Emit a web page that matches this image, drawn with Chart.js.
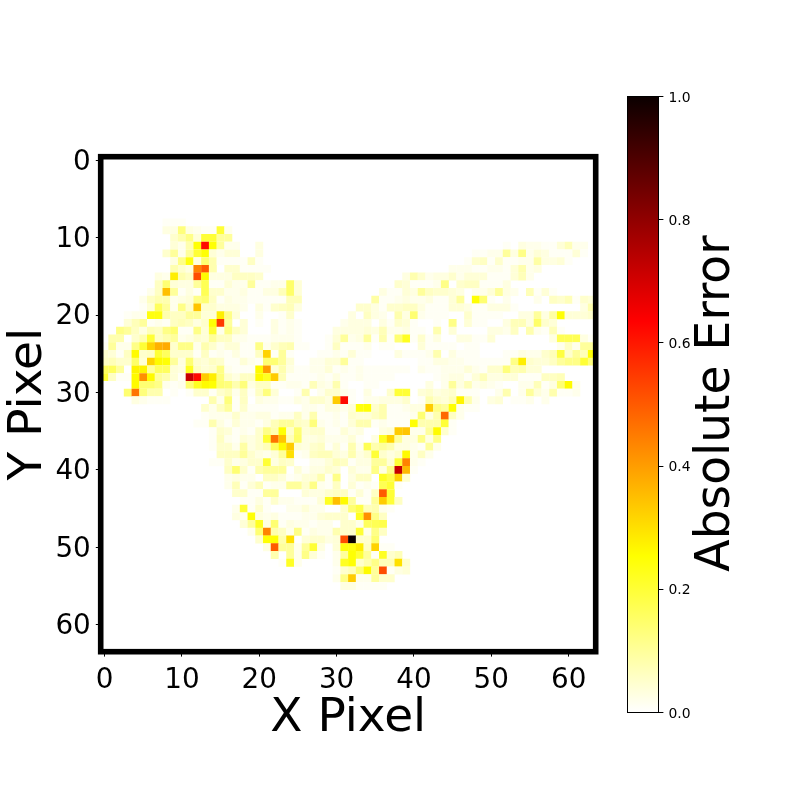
<!DOCTYPE html>
<html>
<head>
<meta charset="utf-8">
<title>Absolute Error</title>
<script src="https://cdn.jsdelivr.net/npm/chart.js@4/dist/chart.umd.js"></script>
<style>
    body { margin: 0; background: #fff; }
    canvas { position: absolute; left: 0; top: 0; }
</style>
</head>
<body>
<canvas id="heatCanvas" width="800" height="800"></canvas>
<canvas id="barCanvas" width="800" height="800"></canvas>
<script>
// Error per pixel in hundredths. Each row is a list of runs: [first column, value, value, ...]
const row08 = [[8,1,1,1]];
const row09 = [[8,3,3,13,3,2,1,1,20,2]];
const row10 = [[9,5,8,12,4,20,20,10,10]];
const row11 = [[9,4,2,8,25,62,25,10,2,2,0,0,3],[52,1,0,3,2,2,1,1,4,7,2,2]];
const row12 = [[8,5,10,2,10,20,25,4,2,4,4,0,0,3],[48,1,1,2,2,10,3,12,2,4,3,1,1,1,4,1]];
const row13 = [[9,3,12,24,3,14,8,1,1,1,1,6,1],[47,1,5,6,1,5,1,1,2,2,9,3,3,4,1]];
const row14 = [[9,8,5,3,44,50,8,0,5,5,1,1,1,1],[45,2,2,2,1,1,2,2,1,4,8,2,3]];
const row15 = [[7,3,2,28,8,6,52,26,3,3,3,6,6,6,5],[39,3,8,5,2,3,3,5,2,4,4,4,1,1,1,4,7,2]];
const row16 = [[7,6,14,4,3,3,10,17,1,1,4,2,2,10,1,1,2,2,15,4],[38,5,4,1,1,1,2,12,0,5,6,6,1,1,1,3]];
const row17 = [[6,2,6,35,10,1,3,1,17,5,5,2,2,3,1,1,3,3,7,15,4],[36,3,1,1,4,3,10,6,5,5,4,3,0,2,2,4,10,3,2,0,7,1,4,1]];
const row18 = [[5,2,6,8,8,2,3,4,12,14,6,1,3,2,2,1,1,1,1,1,7,7],[35,9,1,1,2,3,2,2,3,1,1,4,10,0,25,14,1,0,2,0,0,0,2,0,6,5,7,1,5,4]];
const row19 = [[5,1,4,16,10,2,12,5,34,5,5,3,3,3,2,0,3,1,5,6,7,3],[33,5,5,3,1,5,5,6,6,3,1,1,1,4,4,3,1,1,3,3,3,1],[62,3,8]];
const row20 = [[3,1,2,2,24,24,8,6,6,10,10,4,4,28,12,4,0,0,2,0,0,1,5],[32,3,0,6,3,2,0,8,3,14,2,1,1,1,0,0,5,1,1,1,1,0,0,3,3,10,3,9,25,4,4,4,5]];
const row21 = [[3,4,7,10,1,2,1,6,7,6,3,5,25,55,10,0,4,0,1,0,3,1,2,1],[31,2,3,3,3,0,3,1,5,4,1,0,0,1,0,12,0,4,1,1,0,0,3,7,7,3,15,5,4]];
const row22 = [[2,12,10,6,3,7,6,12,14,1,1,12,4,20,2,12,6,4,0,0,0,3,1,2,1],[30,3,3,3,3,4,3,7,2,2,3,1,1,0,8,0,4,0,0,0,0,3,3,2,6,0,8,2,1,7,1]];
const row23 = [[1,8,8,0,5,8,20,6,8,10,2,3,5,4,10,6,6,2,2,1,1,1,2,2,2,1],[29,1,4,10,2,3,10,1,8,1,14,22,1,5,1,3,0,0,3,3,1,1,4],[58,3,17,17,17,3,1]];
const row24 = [[0,1,10,2,2,12,20,32,37,38,5,12,12,2,8,5,2,4,4,1,1,12,2,5,7,8,1,1,0,0,1,6,1,1,1,2,0,1,1,0,0,0,4,1,1,1,1,0,1,1],[59,2,6,2,10,10]];
const row25 = [[0,5,4,1,6,26,5,6,20,16,5,5,5,1,6,1,2,1,3,1,1,6,32,1,10,1],[28,1,1,2,1,4,1,1,0,0,0,3,1,1,1,2,8,0,3,1,1,1],[52,1,1,3,2,2,5,7,19,5,10,7,25]];
const row26 = [[0,6,7,5,5,15,4,32,26,25,10,3,14,5,4,6,5,1,1,4,2,1,14,14,10,4],[27,2,2,4,4,10,1,1],[41,1,1,3,3,2,2,1,1,1,1,1,1,12,28,5,4,4,6,10,12,12,20,13]];
const row27 = [[0,16,16,10,0,27,27,10,16,16,4,3,22,6,4,5,12,2,1,1,1,26,40,4,8,3,1,1,2,2,4,1,2,1,2,1,1,1,1,1,1,0,2,1,1,2,2,2,4,2,1,5,5,13,7,8,4,4]];
const row28 = [[0,20,6,1,1,26,42,26,10,8,4,1,72,62,33,28,13,5,3,6,6,26,22,33,7,1,1,1,1,2,1,3,1,1,2,1,1,1,1],[43,1,2,3,3,1,4,7,3,3,4,4,1,1,1,6,6,7]];
const row29 = [[4,26,14,14,12,2,1,2,14,22,26,25,14,13,8,13,3,6,6,1,1,2,2,1,7,3,2,8,1,0,0,1,1],[42,3,0,2,10,3,7,2,3,2,1,0,0,2,2,7,1,3,14,26,2]];
const row30 = [[3,14,46,13,8,8,0,1,0,1,5,5,1,5,7,2,6,1,6,13,4,0,0,1,8,0,2,5,5,2,1,0,3,0,0,5,20,20,0,4,5,3,4,5,1,1,1,0,0,2,8,0,2,10,4,2,8,1,1,2]];
const row31 = [[4,3,2,1,1,1,0,0,0,0,0,8,2,13,1,6,0,3,2,2,1,1,3,2,5,5,3,33,62,1,0,2,2,3,3,3,5,0,1,8,5,4,7,27,8,2,0,3,4,0,1,1,2,0,2]];
const row32 = [[13,5,2,6,10,1,5,1,1,1,1,0,0,0,2,2,1,3,3,2,4,24,25,5,8,1,1,2,3,3,33,12,10,25,2,1,1]];
const row33 = [[13,1,2,2,2,5,2,2,3,3,1,2,2,6,2,8,1,1,2,1,5,4,4,6,8,1,1,1,2,14,3,8,48,6,2]];
const row34 = [[12,1,1,8,3,1,4,2,2,1,3,7,10,10,6,5,13,2,1,2,1,4,8,8,1,2,1,1,1,25,8,8,8,20,1]];
const row35 = [[14,1,5,4,1,2,1,5,12,8,25,5,14,4,5,5,1,1,4,2,3,0,0,3,4,33,34,2,2,10,26,5,1]];
const row36 = [[14,1,6,2,1,4,3,5,20,46,34,7,15,3,3,4,2,2,2,4,1,0,3,22,32,10,3,3,12,3,12]];
const row37 = [[14,1,5,5,2,9,3,5,7,16,26,33,4,3,5,6,1,4,1,8,2,17,8,10,8,3,3,2,1,10,2]];
const row38 = [[15,6,6,6,10,5,3,2,4,10,30,1,2,6,7,7,4,3,8,3,5,20,5,3,5,26,2,6,2]];
const row39 = [[14,1,1,5,2,3,5,5,20,3,6,5,0,0,2,2,4,7,6,1,3,3,10,10,4,20,44,2,1]];
const row40 = [[16,6,14,5,1,8,10,10,10,0,4,1,3,3,5,4,0,4,2,2,12,3,12,72,36,1]];
const row41 = [[16,2,3,2,2,0,6,6,4,1,2,4,4,8,1,12,0,3,6,6,0,22,18,32,5]];
const row42 = [[16,2,7,1,4,7,1,2,2,10,10,5,12,2,1,6,0,4,1,2,1,17,20,1]];
const row43 = [[17,5,5,1,1,10,10,0,0,0,4,3,3,5,6,6,1,4,1,6,50,20]];
const row44 = [[18,1,1,3,1,5,2,2,1,1,1,4,22,35,26,10,1,1,10,33,20,6]];
const row45 = [[17,2,20,1,5,1,0,0,2,2,4,2,2,0,0,5,14,18,7,8,2,1]];
const row46 = [[17,3,2,25,3,2,3,1,1,1,2,2,4,5,5,5,0,22,42,12,6]];
const row47 = [[18,4,10,22,3,14,1,3,2,2,1,2,2,0,5,5,2,16,17,18]];
const row48 = [[19,2,14,44,8,6,2,12,1,3,2,2,8,5,5,20,2,12,6]];
const row49 = [[20,5,25,25,8,30,0,4,5,5,3,4,52,100,5,5,14]];
const row50 = [[21,3,50,10,10,2,10,20,3,0,4,24,24,28,6,32,1,1]];
const row51 = [[22,8,0,10,2,12,4,1,0,2,10,25,20,10,1,22,5,7]];
const row52 = [[23,1,22,2],[30,2,22,25,5,8,12,7,7,30,5]];
const row53 = [[30,1,5,7,14,26,10,52,1,3,4]];
const row54 = [[30,2,12,33,2,2,10,5,5]];
const row55 = [[31,3,3,1,1,1,1]];

const firstRow = 8;
const errorRows = [
    row08, row09, row10, row11, row12, row13, row14, row15, row16, row17,
    row18, row19, row20, row21, row22, row23, row24, row25, row26, row27,
    row28, row29, row30, row31, row32, row33, row34, row35, row36, row37,
    row38, row39, row40, row41, row42, row43, row44, row45, row46, row47,
    row48, row49, row50, row51, row52, row53, row54, row55
];

const pixelTicks = [0, 10, 20, 30, 40, 50, 60];
const barTicks = [0, 0.2, 0.4, 0.6, 0.8, 1];
const barStops = [0, 0.254, 0.635, 1];

const fontFamily = "'DejaVu Sans', sans-serif";

// Same colours as matplotlib's hot_r
function hotColor(v) {
    const b = Math.max(0, 1 - v / 0.254);
    const g = Math.min(1, Math.max(0, 1 - (v - 0.254) / 0.381));
    const r = v < 0.635 ? 1 : 1 - (v - 0.635) / 0.365 * 0.958;
    return `rgb(${Math.round(r * 255)}, ${Math.round(g * 255)}, ${Math.round(b * 255)})`;
}

// Flatten the runs into scatter points
const points = [];
errorRows.forEach(function(runs, i) {
    runs.forEach(function(run) {
        run.slice(1).forEach(function(value, j) {
            if (value > 0) {
                points.push({x: run[0] + j, y: firstRow + i, v: value / 100});
            }
        });
    });
});

// Box drawn around the plot area, as Chart.js only has left and bottom borders
const framePlugin = {
    id: 'frame',
    afterDatasetsDraw(chart, args, opts) {
        const {ctx, chartArea} = chart;
        ctx.save();
        ctx.strokeStyle = '#000';
        ctx.lineWidth = opts.width;
        ctx.strokeRect(chartArea.left, chartArea.top, chartArea.right - chartArea.left, chartArea.bottom - chartArea.top);
        ctx.restore();
    }
};

// Right hand axis titles turn the other way in Chart.js, so this one is drawn by hand
const barTitlePlugin = {
    id: 'barTitle',
    afterDraw(chart) {
        const {ctx} = chart;
        ctx.save();
        ctx.translate(717, 403.5);
        ctx.rotate(-Math.PI / 2);
        ctx.font = `47.2px ${fontFamily}`;
        ctx.fillStyle = '#000';
        ctx.textAlign = 'center';
        ctx.textBaseline = 'middle';
        ctx.fillText('Absolute Error', 0, 0);
        ctx.restore();
    }
};

function setPixelTicks(scale) {
    scale.ticks = pixelTicks.map(v => ({value: v}));
}

function pixelAxis(label, titlePadding) {
    return {
        type: 'linear',
        min: -0.5,
        max: 63.5,
        afterBuildTicks: setPixelTicks,
        border: {display: false},
        grid: {drawOnChartArea: false, tickColor: '#000', tickLength: 4.9, tickWidth: 1},
        ticks: {
            color: '#000',
            autoSkip: false,
            maxRotation: 0,
            padding: 5,
            font: {family: fontFamily, size: 27.8}
        },
        title: {
            display: true,
            text: label,
            color: '#000',
            padding: titlePadding,
            font: {family: fontFamily, size: 47, lineHeight: 1}
        }
    };
}

const xAxis = pixelAxis('X Pixel', {top: 0, bottom: 58});
xAxis.ticks.padding = 7;
xAxis.afterFit = function(scale) { scale.height = 148.3; };

const yAxis = pixelAxis('Y Pixel', {top: 5, bottom: 0});
yAxis.reverse = true;
yAxis.ticks.labelOffset = 2;
yAxis.afterFit = function(scale) { scale.width = 100.7; };

new Chart(document.getElementById('heatCanvas').getContext('2d'), {
    type: 'scatter',
    data: {
        datasets: [{
            label: 'Absolute Error',
            data: points,
            pointStyle: 'rect',
            pointRadius: 5.6,
            pointBorderWidth: 0,
            pointBackgroundColor: points.map(p => hotColor(p.v))
        }]
    },
    options: {
        responsive: false,
        animation: false,
        layout: {padding: {left: 0, top: 156.7, right: 204.3, bottom: 0}},
        scales: {x: xAxis, y: yAxis},
        plugins: {
            legend: {display: false},
            tooltip: {enabled: false},
            frame: {width: 5.6}
        }
    },
    plugins: [framePlugin]
});

function barGradient(context) {
    const {ctx, chartArea} = context.chart;
    if (!chartArea) {
        return '#fff';
    }
    const gradient = ctx.createLinearGradient(0, chartArea.bottom, 0, chartArea.top);
    barStops.forEach(function(stop) {
        gradient.addColorStop(stop, hotColor(stop));
    });
    return gradient;
}

new Chart(document.getElementById('barCanvas').getContext('2d'), {
    type: 'bar',
    data: {
        labels: ['error'],
        datasets: [{
            data: [[0, 1]],
            backgroundColor: barGradient,
            barPercentage: 1,
            categoryPercentage: 1
        }]
    },
    options: {
        responsive: false,
        animation: false,
        layout: {padding: {left: 627.5, top: 96.5, right: 0, bottom: 87.5}},
        scales: {
            x: {display: false},
            y: {
                position: 'right',
                min: 0,
                max: 1,
                afterBuildTicks(scale) {
                    scale.ticks = barTicks.map(v => ({value: v}));
                },
                afterFit(scale) {
                    scale.width = 141.5;
                },
                border: {display: false},
                grid: {drawOnChartArea: false, tickColor: '#000', tickLength: 4.9, tickWidth: 1},
                ticks: {
                    color: '#000',
                    padding: 5,
                    labelOffset: 1.5,
                    font: {family: fontFamily, size: 13.9},
                    callback: v => v.toFixed(1)
                }
            }
        },
        plugins: {
            legend: {display: false},
            tooltip: {enabled: false},
            frame: {width: 1}
        }
    },
    plugins: [framePlugin, barTitlePlugin]
});
</script>
</body>
</html>
